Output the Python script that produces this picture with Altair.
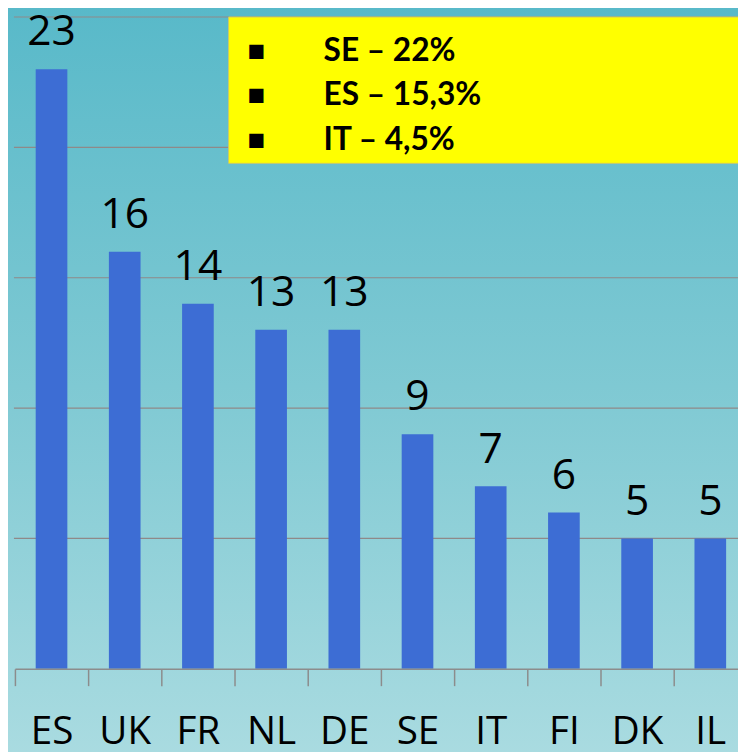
import altair as alt
import pandas as pd

countries = ["ES", "UK", "FR", "NL", "DE", "SE", "IT", "FI", "DK", "IL"]
values = [23, 16, 14, 13, 13, 9, 7, 6, 5, 5]
grid_values = [5, 10, 15, 20, 25]
box_lines = ["SE – 22%", "ES – 15,3%", "IT – 4,5%"]

df = pd.DataFrame({"country": countries, "value": values})
grid_df = pd.DataFrame({"v": grid_values})
one = pd.DataFrame({"a": [0]})
box_df = pd.DataFrame({"t": ["\n".join(box_lines)], "b": ["\n".join(["▪"] * len(box_lines))]})

W, H = 731, 659
xscale = alt.Scale(domain=countries, range=[0, 740], paddingInner=0, paddingOuter=0)
yscale = alt.Scale(domain=[0, 25], nice=False)

bg = alt.Chart(one).mark_rect(
    color=alt.Gradient(
        gradient="linear",
        stops=[alt.GradientStop(color="#58b9c9", offset=0),
               alt.GradientStop(color="#7fc9d3", offset=0.5),
               alt.GradientStop(color="#abdce1", offset=1)],
        x1=0, x2=0, y1=0, y2=1,
    )
).encode(x=alt.value(-20), x2=alt.value(760), y=alt.value(-13), y2=alt.value(760))

grid = alt.Chart(grid_df).mark_rule(color="#8f8989", strokeWidth=1.2).encode(
    y=alt.Y("v:Q", scale=yscale, axis=None),
    x=alt.value(-1), x2=alt.value(760),
)

bars = alt.Chart(df).mark_bar(size=32, color="#3d6dd4").encode(
    x=alt.X("country:N", sort=None, scale=xscale,
            axis=alt.Axis(title=None, labelAngle=0, labelFontSize=39, labelFont="Open Sans",
                          labelColor="black", labelPadding=27, tickSize=17, tickBand="extent",
                          tickColor="#8c8c8c", domainColor="#8c8c8c", domainWidth=1.5,
                          tickWidth=1.5, grid=False, zindex=1)),
    y=alt.Y("value:Q", scale=yscale, axis=None),
)

labels = alt.Chart(df).mark_text(dy=-24, baseline="alphabetic", fontSize=43,
                                 font="Open Sans", color="black").encode(
    x=alt.X("country:N", sort=None, scale=xscale),
    y=alt.Y("value:Q", scale=yscale),
    text=alt.Text("value:Q"),
)

box = alt.Chart(one).mark_rect(color="#ffff00", stroke="#c9c96a", strokeWidth=1).encode(
    x=alt.value(216), x2=alt.value(800), y=alt.value(0), y2=alt.value(148)
)

box_text = alt.Chart(box_df).mark_text(
    align="left", baseline="alphabetic", fontSize=32, font="Lato", fontWeight="bold",
    color="black", lineHeight=45, lineBreak="\n",
).encode(x=alt.value(312), y=alt.value(44), text="t:N")

box_bullets = alt.Chart(box_df).mark_text(
    align="center", baseline="alphabetic", fontSize=29, font="DejaVu Sans",
    color="black", lineHeight=45, lineBreak="\n",
).encode(x=alt.value(244), y=alt.value(42), text="b:N")

chart = alt.layer(bg, grid, bars, labels, box, box_text, box_bullets).properties(
    width=W, height=H,
    autosize=alt.AutoSizeParams(type="none"),
    padding={"left": 7, "top": 5, "right": 0, "bottom": 80},
    background="#58b9c9",
).configure_view(stroke=None)

chart.save("out.html", embed_options={"renderer": "svg", "actions": False})
